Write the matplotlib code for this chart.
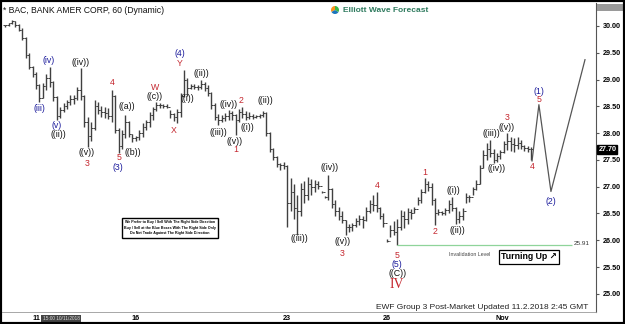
import matplotlib
matplotlib.use('Agg')
import matplotlib.pyplot as plt
from matplotlib.patches import Rectangle

plt.rcParams['font.family'] = ['Liberation Sans', 'DejaVu Sans']

# BAC 60 min bars, 9 per session, Oct 10 .. Nov 1 2018
highs = [30.02, 30.06, 30.11, 30.10, 30.04, 29.96, 29.80, 29.50, 29.26,
         29.14, 28.92, 28.94, 29.10, 29.24, 28.98, 28.70, 28.48, 28.56,
         28.62, 28.71, 28.72, 28.86, 29.22, 28.72, 28.30, 28.20, 28.62,
         28.58, 28.50, 28.48, 28.46, 28.81, 28.72, 28.10, 28.05, 28.34,
         28.22, 27.98, 27.95, 28.05, 28.19, 28.25, 28.40, 28.49, 28.58,
         28.56, 28.55, 28.55, 28.43, 28.38, 28.45, 28.75, 29.18, 29.02,
         28.92, 28.92, 28.90, 28.99, 28.95, 28.90, 28.76, 28.56, 28.36,
         28.34, 28.38, 28.43, 28.42, 28.35, 28.45, 28.49, 28.42, 28.40,
         28.36, 28.34, 28.35, 28.42, 28.40, 28.02, 27.72, 27.58, 27.44,
         27.46, 27.40, 27.16, 27.05, 26.85, 27.07, 27.10, 27.18, 27.15,
         27.12, 27.10, 26.92, 26.83, 27.22, 26.98, 26.75, 26.62, 26.55,
         26.38, 26.30, 26.32, 26.42, 26.47, 26.45, 26.62, 26.75, 26.85,
         26.90, 26.62, 26.50, 26.02, 26.29, 26.35, 26.40, 26.57, 26.55,
         26.60, 26.58, 26.62, 26.81, 26.95, 27.16, 27.10, 27.07, 26.78,
         26.58, 26.55, 26.60, 26.75, 26.81, 26.62, 26.55, 26.60, 26.88,
         26.85, 27.00, 27.13, 27.40, 27.69, 27.82, 27.87, 27.70, 27.62,
         27.69, 27.85, 28.00, 27.93, 27.90, 27.93, 27.88, 27.78, 27.76,
         27.74]
lows = [29.98, 30.00, 30.03, 29.98, 29.90, 29.74, 29.40, 29.20, 29.05,
        28.82, 28.58, 28.66, 28.80, 28.86, 28.60, 28.25, 28.28, 28.40,
        28.45, 28.53, 28.55, 28.62, 28.62, 28.12, 27.74, 27.85, 28.05,
        28.35, 28.30, 28.28, 28.26, 28.20, 28.00, 27.63, 27.70, 27.90,
        27.92, 27.84, 27.85, 27.87, 27.92, 28.05, 28.12, 28.25, 28.42,
        28.47, 28.47, 28.46, 28.28, 28.22, 28.18, 28.30, 28.68, 28.70,
        28.82, 28.83, 28.80, 28.82, 28.78, 28.70, 28.45, 28.25, 28.15,
        28.20, 28.22, 28.24, 28.25, 27.97, 28.20, 28.28, 28.25, 28.26,
        28.26, 28.28, 28.28, 28.30, 27.95, 27.65, 27.50, 27.37, 27.32,
        27.33, 26.25, 26.55, 26.40, 26.10, 26.45, 26.70, 26.75, 26.85,
        26.90, 26.95, 26.88, 26.79, 26.75, 26.60, 26.45, 26.38, 26.32,
        26.10, 26.16, 26.18, 26.25, 26.28, 26.23, 26.35, 26.50, 26.55,
        26.52, 26.40, 26.25, 25.97, 26.06, 26.10, 25.91, 26.19, 26.22,
        26.30, 26.40, 26.50, 26.66, 26.70, 26.88, 26.92, 26.66, 26.29,
        26.47, 26.47, 26.48, 26.51, 26.55, 26.31, 26.32, 26.38, 26.70,
        26.72, 26.85, 26.94, 27.05, 27.35, 27.50, 27.56, 27.44, 27.46,
        27.52, 27.63, 27.69, 27.66, 27.65, 27.70, 27.70, 27.66, 27.65,
        27.50]
closes = [30.01, 30.05, 30.09, 30.02, 29.93, 29.78, 29.45, 29.24, 29.10,
          28.90, 28.66, 28.88, 29.02, 28.95, 28.68, 28.32, 28.44, 28.50,
          28.58, 28.64, 28.66, 28.80, 28.70, 28.20, 27.95, 28.10, 28.50,
          28.44, 28.40, 28.38, 28.32, 28.70, 28.05, 27.75, 27.98, 28.20,
          27.98, 27.90, 27.92, 28.00, 28.12, 28.20, 28.34, 28.45, 28.52,
          28.52, 28.50, 28.49, 28.35, 28.30, 28.40, 28.70, 29.00, 28.85,
          28.88, 28.86, 28.86, 28.92, 28.85, 28.74, 28.52, 28.30, 28.25,
          28.28, 28.32, 28.38, 28.33, 28.25, 28.40, 28.35, 28.30, 28.32,
          28.30, 28.31, 28.33, 28.38, 28.00, 27.70, 27.55, 27.42, 27.40,
          27.38, 26.70, 26.90, 26.60, 26.55, 26.95, 26.85, 27.05, 27.00,
          27.05, 27.02, 26.90, 26.81, 26.95, 26.68, 26.55, 26.45, 26.38,
          26.25, 26.24, 26.28, 26.35, 26.40, 26.38, 26.55, 26.68, 26.65,
          26.60, 26.45, 26.32, 25.99, 26.20, 26.15, 26.25, 26.45, 26.40,
          26.52, 26.50, 26.58, 26.75, 26.90, 27.05, 27.00, 26.75, 26.50,
          26.52, 26.50, 26.56, 26.68, 26.60, 26.40, 26.45, 26.55, 26.80,
          26.80, 26.95, 27.05, 27.35, 27.60, 27.70, 27.62, 27.50, 27.58,
          27.65, 27.80, 27.85, 27.80, 27.78, 27.82, 27.76, 27.72, 27.70,
          27.70]

day_ticks = [9, 38, 82, 111, 144.5]
day_labels = ['11', '16', '23', '26', 'Nov']
price_ticks = [25.0, 25.5, 26.0, 26.5, 27.0, 27.5, 28.0, 28.5, 29.0, 29.5, 30.0]
last_price = 27.70
invalidation = 25.91

# projected path after the last bar
proj_x = [153.2, 155.2, 158.7, 168.6]
proj_y = [27.48, 28.53, 26.91, 29.37]

# wave labels: text, bar position, price, colour
wave_text = ['(iii)', '(iv)', '(v)', '((ii))', '((iv))', '((v))', '3', '4', '5', '(3)',
             '((a))', '((b))', 'W', '((c))', 'X', '(4)', 'Y', '((i))', '((ii))',
             '((iii))', '((iv))', '2', '((v))', '1', '((i))', '((ii))', '((iii))',
             '((iv))', '((v))', '3', '4', '5', '(5)', '((C))', '1', '2', '((i))',
             '((ii))', '((iii))', '((iv))', '3', '((v))', '4', '(1)', '5', '(2)']
wave_x = [9.9, 12.8, 15.1, 15.4, 21.8, 23.8, 23.8, 31.1, 33.1, 32.9,
          35.5, 37.2, 43.6, 43.6, 49.1, 50.9, 50.9, 52.9, 57.0,
          61.9, 65.1, 68.6, 66.6, 67.0, 70.3, 75.6, 85.5,
          94.2, 98.0, 98.0, 108.1, 114.0, 114.0, 114.0, 122.1, 125.0, 130.2,
          131.4, 141.3, 143.0, 145.9, 145.9, 153.2, 155.2, 155.2, 158.7]
wave_y = [28.45, 29.35, 28.15, 27.97, 29.31, 27.63, 27.43, 28.94, 27.54, 27.35,
          28.49, 27.63, 28.86, 28.69, 28.04, 29.48, 29.29, 28.64, 29.12,
          28.02, 28.54, 28.60, 27.84, 27.69, 28.10, 28.60, 26.03,
          27.35, 25.97, 25.76, 27.03, 25.71, 25.54, 25.37, 27.26, 26.16, 26.92,
          26.19, 27.99, 27.33, 28.30, 28.10, 27.37, 28.77, 28.62, 26.72]
wave_col = ['b', 'b', 'b', 'k', 'k', 'k', 'r', 'r', 'r', 'b',
            'k', 'k', 'r', 'k', 'r', 'b', 'r', 'k', 'k',
            'k', 'k', 'r', 'k', 'r', 'k', 'k', 'k',
            'k', 'k', 'r', 'r', 'r', 'b', 'k', 'r', 'r', 'k',
            'k', 'k', 'k', 'r', 'k', 'r', 'b', 'r', 'b']
colours = {'k': '#111111', 'r': '#c4262e', 'b': '#1c1c9c'}

fig = plt.figure(figsize=(6.25, 3.24), dpi=100)
ax = fig.add_axes([0.0032, 0.037, 0.9504, 0.954])

x = list(range(len(highs)))
opens = [closes[0]] + closes[:-1]
bar_col = '#404040'
ax.vlines(x, lows, highs, color=bar_col, lw=1.0)
ax.hlines(opens, [i - 0.5 for i in x], x, color=bar_col, lw=0.7)
ax.hlines(closes, x, [i + 0.5 for i in x], color=bar_col, lw=0.7)

ax.plot(proj_x, proj_y, color='#555555', lw=0.9)

ax.hlines(invalidation, 114, 164.8, color='#8fd49a', lw=0.9)
ax.text(167.7, invalidation + 0.02, '25.91', fontsize=4.6, ha='center', va='center', color='#333333')
ax.text(135.2, 25.73, 'Invalidation Level', fontsize=3.8, ha='center', va='center', color='#444444')
ax.text(152.3, 25.69, 'Turning Up \u2197', fontsize=6.3, fontweight='bold', ha='center', va='center',
        bbox=dict(boxstyle='square,pad=0.25', fc='white', ec='black', lw=0.9))

for t, wx, wy, c in zip(wave_text, wave_x, wave_y, wave_col):
    ax.text(wx, wy, t, fontsize=6.3, ha='center', va='center', color=colours[c])
ax.text(114, 25.17, 'IV', fontsize=10, ha='center', va='center', color=colours['r'],
        family=['Liberation Serif', 'DejaVu Serif'])

ax.text(48.0, 26.23, 'We Prefer to Buy / Sell With The Right Side Direction\n'
        'Buy / Sell at the Blue Boxes With The Right Side Only\n'
        'Do Not Trade Against The Right Side Direction',
        fontsize=2.6, fontweight='bold', ha='center', va='center', linespacing=1.5,
        bbox=dict(boxstyle='square,pad=0.6', fc='white', ec='black', lw=1.0))

ax.text(0.002, 0.99, '* BAC, BANK AMER CORP, 60 (Dynamic)', transform=ax.transAxes,
        fontsize=6.2, ha='left', va='top', color='#111111')
ax.text(169.5, 0.004, 'EWF Group 3 Post-Market Updated 11.2.2018 2:45 GMT',
        transform=ax.get_xaxis_transform(), fontsize=6, ha='right', va='bottom', color='#222222')

ax.set_xlim(-0.9, 171.8)
ax.set_ylim(24.66, 30.43)

ax.yaxis.tick_right()
ax.set_yticks(price_ticks, [f'{v:.2f}' for v in price_ticks])
ax.set_xticks(day_ticks, day_labels)
ax.tick_params(axis='y', labelsize=5.2, length=2, pad=3, color='#555555')
ax.tick_params(axis='x', labelsize=5.2, length=0, pad=2)
for lbl in ax.get_yticklabels() + ax.get_xticklabels():
    lbl.set_fontweight('bold')

for side in ['top', 'left']:
    ax.spines[side].set_visible(False)
ax.spines['right'].set_color('#555555')
ax.spines['bottom'].set_color('#999999')
ax.spines['right'].set_linewidth(0.8)
ax.spines['bottom'].set_linewidth(0.6)

ax.text(1.004, last_price, '27.70', transform=ax.get_yaxis_transform(), fontsize=5.2,
        fontweight='bold', color='white', ha='left', va='center',
        bbox=dict(boxstyle='square,pad=0.15', fc='black', ec='black'))
ax.text(16.3, -0.021, '15:00 10/11/2018', transform=ax.get_xaxis_transform(), fontsize=3.4,
        color='#dddddd', ha='center', va='center',
        bbox=dict(boxstyle='square,pad=0.3', fc='#444444', ec='none'))

# logo
icon = fig.add_axes([330 / 625, 1 - 15 / 324, 10 / 625, 10 / 324])
icon.pie([1, 1, 1], colors=['#f7941d', '#1c75bc', '#39b54a'], startangle=90)
icon.set_aspect('equal')
fig.text(343 / 625, 1 - 10 / 324, 'Elliott Wave Forecast', fontsize=6, fontweight='bold',
         color='#2e7a5e', ha='left', va='center')
fig.patches.append(Rectangle((597 / 625, 1 - 11 / 324), 26 / 625, 7 / 324,
                             transform=fig.transFigure, fc='#9a9a9a', ec='none'))

fig.patches.append(Rectangle((0, 0), 1, 1, transform=fig.transFigure, fill=False,
                             ec='black', lw=3))

fig.savefig('out.png', dpi=100)
